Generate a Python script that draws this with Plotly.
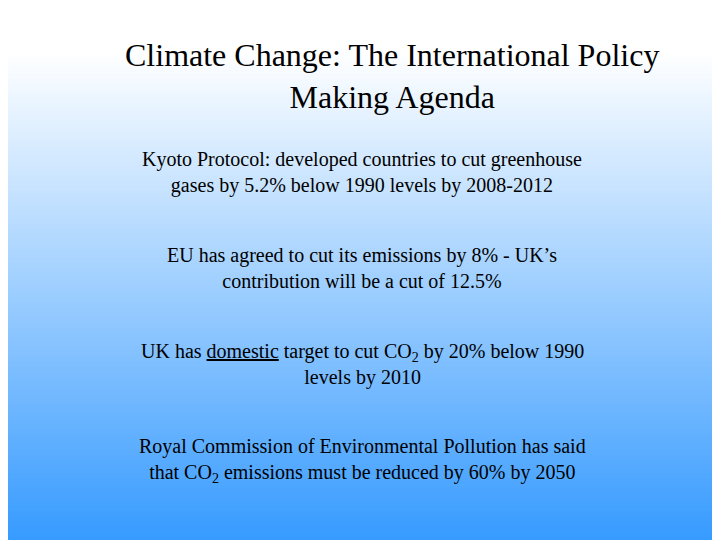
import numpy as np
import plotly.graph_objects as go

# slide text
title_lines = ["Climate Change: The International Policy", "Making Agenda"]
bullets = [
    "Kyoto Protocol: developed countries to cut greenhouse<br>gases by 5.2% below 1990 levels by 2008-2012",
    "EU has agreed to cut its emissions by 8% - UK\u2019s<br>contribution will be a cut of 12.5%",
    "UK has <u>domestic</u> target to cut CO<sub>2</sub> by 20% below 1990<br>levels by 2010",
    "Royal Commission of Environmental Pollution has said<br>that CO<sub>2</sub> emissions must be reduced by 60% by 2050",
]
bullet_y = [164, 260, 356, 452]

W, H = 720, 540
rows = np.linspace(-20, H + 20, 116)
z = [[max(r, 0) / H, max(r, 0) / H] for r in rows]

fig = go.Figure(go.Heatmap(
    x=[-400, W + 400], y=rows, z=z, showscale=False, hoverinfo="skip",
    colorscale=[[0, "#ffffff"], [0.08, "#ffffff"], [1, "#3399ff"]],
    zmin=0, zmax=1, zsmooth="best",
))

font = "Liberation Serif, Times New Roman, serif"
fig.add_annotation(x=384, y=68, text="<br>".join(title_lines), showarrow=False,
                   font=dict(family=font, size=32, color="black"), align="center")
for t, y in zip(bullets, bullet_y):
    fig.add_annotation(x=354, y=y, text=t, showarrow=False,
                       font=dict(family=font, size=20, color="black"), align="center")

fig.update_layout(
    width=W, height=H, margin=dict(l=0, r=0, t=0, b=0),
    xaxis=dict(range=[0, W], visible=False, fixedrange=True),
    yaxis=dict(range=[H, 0], visible=False, fixedrange=True),
    plot_bgcolor="white", paper_bgcolor="white",
)
fig.write_html("out.html")
